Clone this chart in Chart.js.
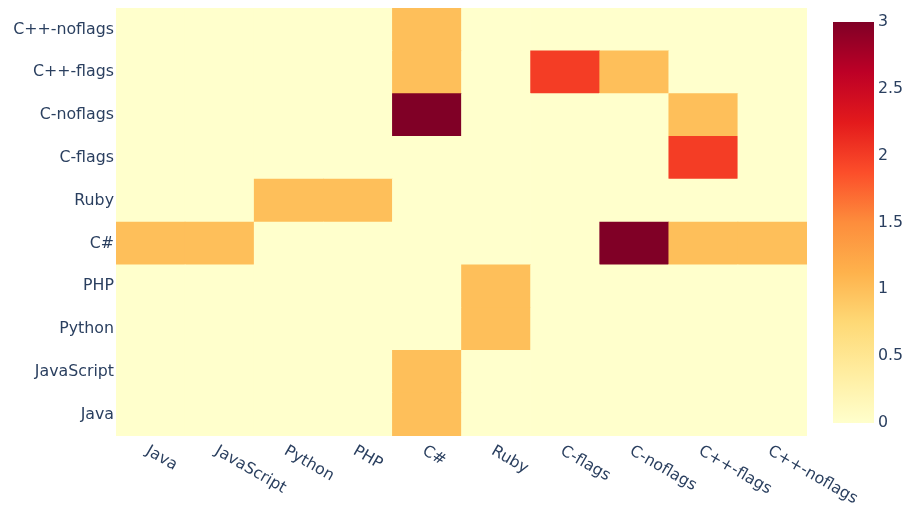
<!DOCTYPE html>
<html>
<head>
<meta charset="utf-8">
<script src="https://cdn.jsdelivr.net/npm/chart.js@4/dist/chart.umd.min.js"></script>
<style>
  html, body { margin: 0; padding: 0; background: #ffffff; }
  #wrap { position: relative; width: 907px; height: 506px; }
  #heat { position: absolute; left: 0; top: 0; }
  #bar { position: absolute; left: 800px; top: 0; }
</style>
</head>
<body>
<div id="wrap">
  <canvas id="heat" width="907" height="506"></canvas>
  <canvas id="bar" width="107" height="506"></canvas>
</div>
<script>
// Languages along the x axis (columns) and y axis (rows, bottom to top)
const xLabels = ['Java', 'JavaScript', 'Python', 'PHP', 'C#', 'Ruby', 'C-flags', 'C-noflags', 'C++-flags', 'C++-noflags'];
const yLabels = ['Java', 'JavaScript', 'Python', 'PHP', 'C#', 'Ruby', 'C-flags', 'C-noflags', 'C++-flags', 'C++-noflags'];

// Cell values, one array per row (bottom row first), one entry per column
const rowJava        = [0, 0, 0, 0, 1, 0, 0, 0, 0, 0];
const rowJavaScript  = [0, 0, 0, 0, 1, 0, 0, 0, 0, 0];
const rowPython      = [0, 0, 0, 0, 0, 1, 0, 0, 0, 0];
const rowPHP         = [0, 0, 0, 0, 0, 1, 0, 0, 0, 0];
const rowCSharp      = [1, 1, 0, 0, 0, 0, 0, 3, 1, 1];
const rowRuby        = [0, 0, 1, 1, 0, 0, 0, 0, 0, 0];
const rowCFlags      = [0, 0, 0, 0, 0, 0, 0, 0, 2, 0];
const rowCNoflags    = [0, 0, 0, 0, 3, 0, 0, 0, 1, 0];
const rowCppFlags    = [0, 0, 0, 0, 1, 0, 2, 1, 0, 0];
const rowCppNoflags  = [0, 0, 0, 0, 1, 0, 0, 0, 0, 0];
const zRows = [rowJava, rowJavaScript, rowPython, rowPHP, rowCSharp, rowRuby, rowCFlags, rowCNoflags, rowCppFlags, rowCppNoflags];

// Colour bar ticks
const zMin = 0;
const zMax = 3;
const colorbarTicks = [0, 0.5, 1, 1.5, 2, 2.5, 3];

// Reversed YlOrRd colour scale
const scaleStops = [
  [0.000, [255, 255, 204]],
  [0.125, [255, 237, 160]],
  [0.250, [254, 217, 118]],
  [0.375, [254, 178, 76]],
  [0.500, [253, 141, 60]],
  [0.625, [252, 78, 42]],
  [0.750, [227, 26, 28]],
  [0.875, [189, 0, 38]],
  [1.000, [128, 0, 38]]
];

function colorFor(v) {
  const t = Math.max(0, Math.min(1, (v - zMin) / (zMax - zMin)));
  for (let i = 1; i < scaleStops.length; i++) {
    const [t1, c1] = scaleStops[i];
    const [t0, c0] = scaleStops[i - 1];
    if (t <= t1) {
      const f = (t - t0) / (t1 - t0);
      const c = c0.map((a, k) => Math.round(a + (c1[k] - a) * f));
      return `rgb(${c[0]},${c[1]},${c[2]})`;
    }
  }
  const c = scaleStops[scaleStops.length - 1][1];
  return `rgb(${c[0]},${c[1]},${c[2]})`;
}

const FONT = { family: '"DejaVu Sans", Verdana, sans-serif', size: 15.8 };
const TEXT = '#2a3f5f';

// Each row is a stacked band of unit height; cells are coloured by their value
const datasets = zRows.map((row, r) => ({
  label: yLabels[r],
  data: row.map(() => 1),
  backgroundColor: row.map(colorFor),
  borderWidth: 0,
  barPercentage: 1,
  categoryPercentage: 1
}));

// Angled category labels under the grid, reading downwards to the right
const angledLabels = {
  id: 'angledLabels',
  afterDraw(chart) {
    const ctx = chart.ctx;
    const xs = chart.scales.x;
    ctx.save();
    ctx.font = `${FONT.size}px ${FONT.family}`;
    ctx.fillStyle = TEXT;
    ctx.textAlign = 'left';
    ctx.textBaseline = 'middle';
    xLabels.forEach((lab, i) => {
      const px = xs.getPixelForValue(i);
      ctx.save();
      ctx.translate(px - 3.5, chart.chartArea.bottom + 14);
      ctx.rotate(Math.PI / 6);
      ctx.fillText(lab, 0, 0);
      ctx.restore();
    });
    ctx.restore();
  }
};

new Chart(document.getElementById('heat'), {
  type: 'bar',
  data: { labels: xLabels, datasets },
  plugins: [angledLabels],
  options: {
    responsive: false,
    animation: false,
    layout: { padding: { left: 0, top: 8, right: 100, bottom: 70 } },
    plugins: { legend: { display: false }, tooltip: { enabled: false } },
    scales: {
      x: {
        stacked: true,
        offset: true,
        grid: { display: false, drawTicks: false },
        border: { display: false },
        ticks: { display: false },
        afterFit(s) { s.height = 0; }
      },
      y: {
        stacked: true,
        min: 0,
        max: yLabels.length,
        grid: { display: false, drawTicks: false },
        border: { display: false },
        afterBuildTicks(s) { s.ticks = yLabels.map((_, i) => ({ value: i + 0.5 })); },
        afterFit(s) { s.width = 116; s.paddingTop = 0; s.paddingBottom = 0; },
        ticks: {
          padding: 2,
          font: FONT,
          color: TEXT,
          callback: (v) => yLabels[Math.floor(v)]
        }
      }
    }
  }
});

// Colour bar: a single full-height bar filled with the colour scale
new Chart(document.getElementById('bar'), {
  type: 'bar',
  data: {
    labels: [''],
    datasets: [{
      data: [zMax],
      borderWidth: 0,
      barPercentage: 1,
      categoryPercentage: 1,
      backgroundColor(context) {
        const area = context.chart.chartArea;
        if (!area) return colorFor(zMin);
        const g = context.chart.ctx.createLinearGradient(0, area.bottom, 0, area.top);
        scaleStops.forEach(([t, c]) => g.addColorStop(t, `rgb(${c[0]},${c[1]},${c[2]})`));
        return g;
      }
    }]
  },
  options: {
    responsive: false,
    animation: false,
    layout: { padding: { left: 33, top: 22, right: 0, bottom: 83 } },
    plugins: { legend: { display: false }, tooltip: { enabled: false } },
    scales: {
      x: {
        grid: { display: false, drawTicks: false },
        border: { display: false },
        ticks: { display: false },
        afterFit(s) { s.height = 0; }
      },
      y: {
        position: 'right',
        min: zMin,
        max: zMax,
        grid: { display: false, drawTicks: false },
        border: { display: false },
        afterBuildTicks(s) { s.ticks = colorbarTicks.map(v => ({ value: v })); },
        afterFit(s) { s.width = 33; },
        ticks: { padding: 4, font: FONT, color: TEXT, callback: (v) => String(v) }
      }
    }
  }
});
</script>
</body>
</html>
